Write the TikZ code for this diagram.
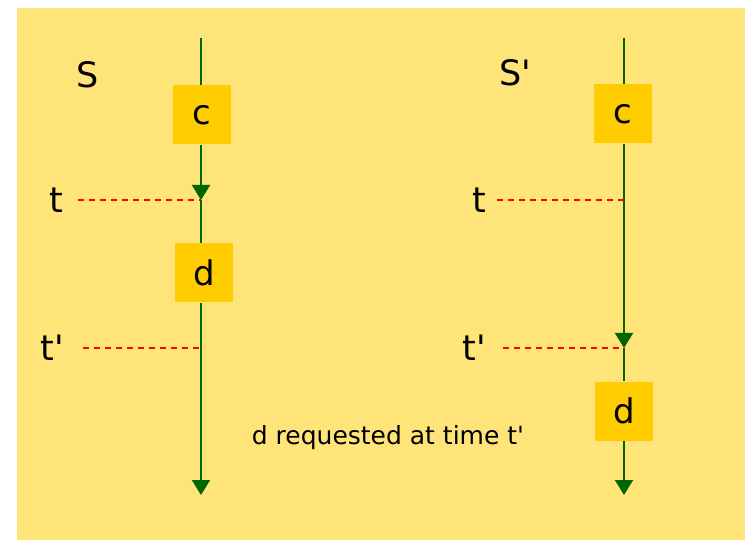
\documentclass[tikz,border=0pt]{standalone}
\usepackage{fontspec}
\setmainfont{DejaVu Sans}
\usetikzlibrary{arrows.meta}
\definecolor{FrameYellow}{HTML}{FFE47A}
\definecolor{BoxYellow}{HTML}{FFCC00}
\definecolor{LineGreen}{HTML}{006600}
\definecolor{TimeRed}{HTML}{FF0000}

\begin{document}
\begin{tikzpicture}[
  x=1pt,
  y=-1pt,
  event/.style={
    fill=BoxYellow,
    inner sep=0pt,
    minimum width=58pt,
    minimum height=59pt,
    font=\fontsize{34}{38}\selectfont
  },
  label/.style={font=\fontsize{35}{40}\selectfont, text=black, inner sep=0pt},
  note/.style={font=\fontsize{25}{28}\selectfont, inner sep=0pt},
  timeline/.style={draw=LineGreen, line width=2pt},
  arrow/.style={timeline, -{Triangle[length=15pt,width=18pt]}},
  timemark/.style={draw=TimeRed, line width=1.2pt, dash pattern=on 6pt off 5pt}
]
\useasboundingbox (0,0) rectangle (745,540);
\fill[FrameYellow] (17,8) rectangle (745,540);

% frame S
\node[label] (nameS) at (88,75) {S};
\coordinate (topS) at (201,38);
\node[event] (cS) at (202,115) {c};
\coordinate (tS) at (201,200);
\node[event] (dS) at (204,273) {d};
\coordinate (tpS) at (201,348);
\coordinate (endS) at (201,495);
\node[label] (lblTS) at (56,200) {t};
\node[label] (lblTpS) at (52,348) {t\textquotesingle};

\draw[timeline] (topS) -- (cS.north -| topS);
\draw[arrow] (cS.south -| topS) -- (tS);
\draw[timeline] (tS) -- (dS.north -| tS);
\draw[arrow] (dS.south -| tS) -- (endS);
\draw[timemark] (78,200) -- (tS);
\draw[timemark] (83,348) -- (tpS);

% frame S'
\node[label] (nameSp) at (515,73) {S\textquotesingle};
\coordinate (topSp) at (624,38);
\node[event] (cSp) at (623,114) {c};
\coordinate (tSp) at (624,200);
\coordinate (tpSp) at (624,348);
\node[event] (dSp) at (624,411) {d};
\coordinate (endSp) at (624,495);
\node[label] (lblTSp) at (479,200) {t};
\node[label] (lblTpSp) at (474,348) {t\textquotesingle};

\draw[timeline] (topSp) -- (cSp.north -| topSp);
\draw[arrow] (cSp.south -| topSp) -- (tpSp);
\draw[timeline] (tpSp) -- (dSp.north -| tpSp);
\draw[arrow] (dSp.south -| tpSp) -- (endSp);
\draw[timemark] (497,200) -- (tSp);
\draw[timemark] (503,348) -- (tpSp);

\node[note] (request) at (388,438) {d requested at time t\textquotesingle};
\end{tikzpicture}
\end{document}
